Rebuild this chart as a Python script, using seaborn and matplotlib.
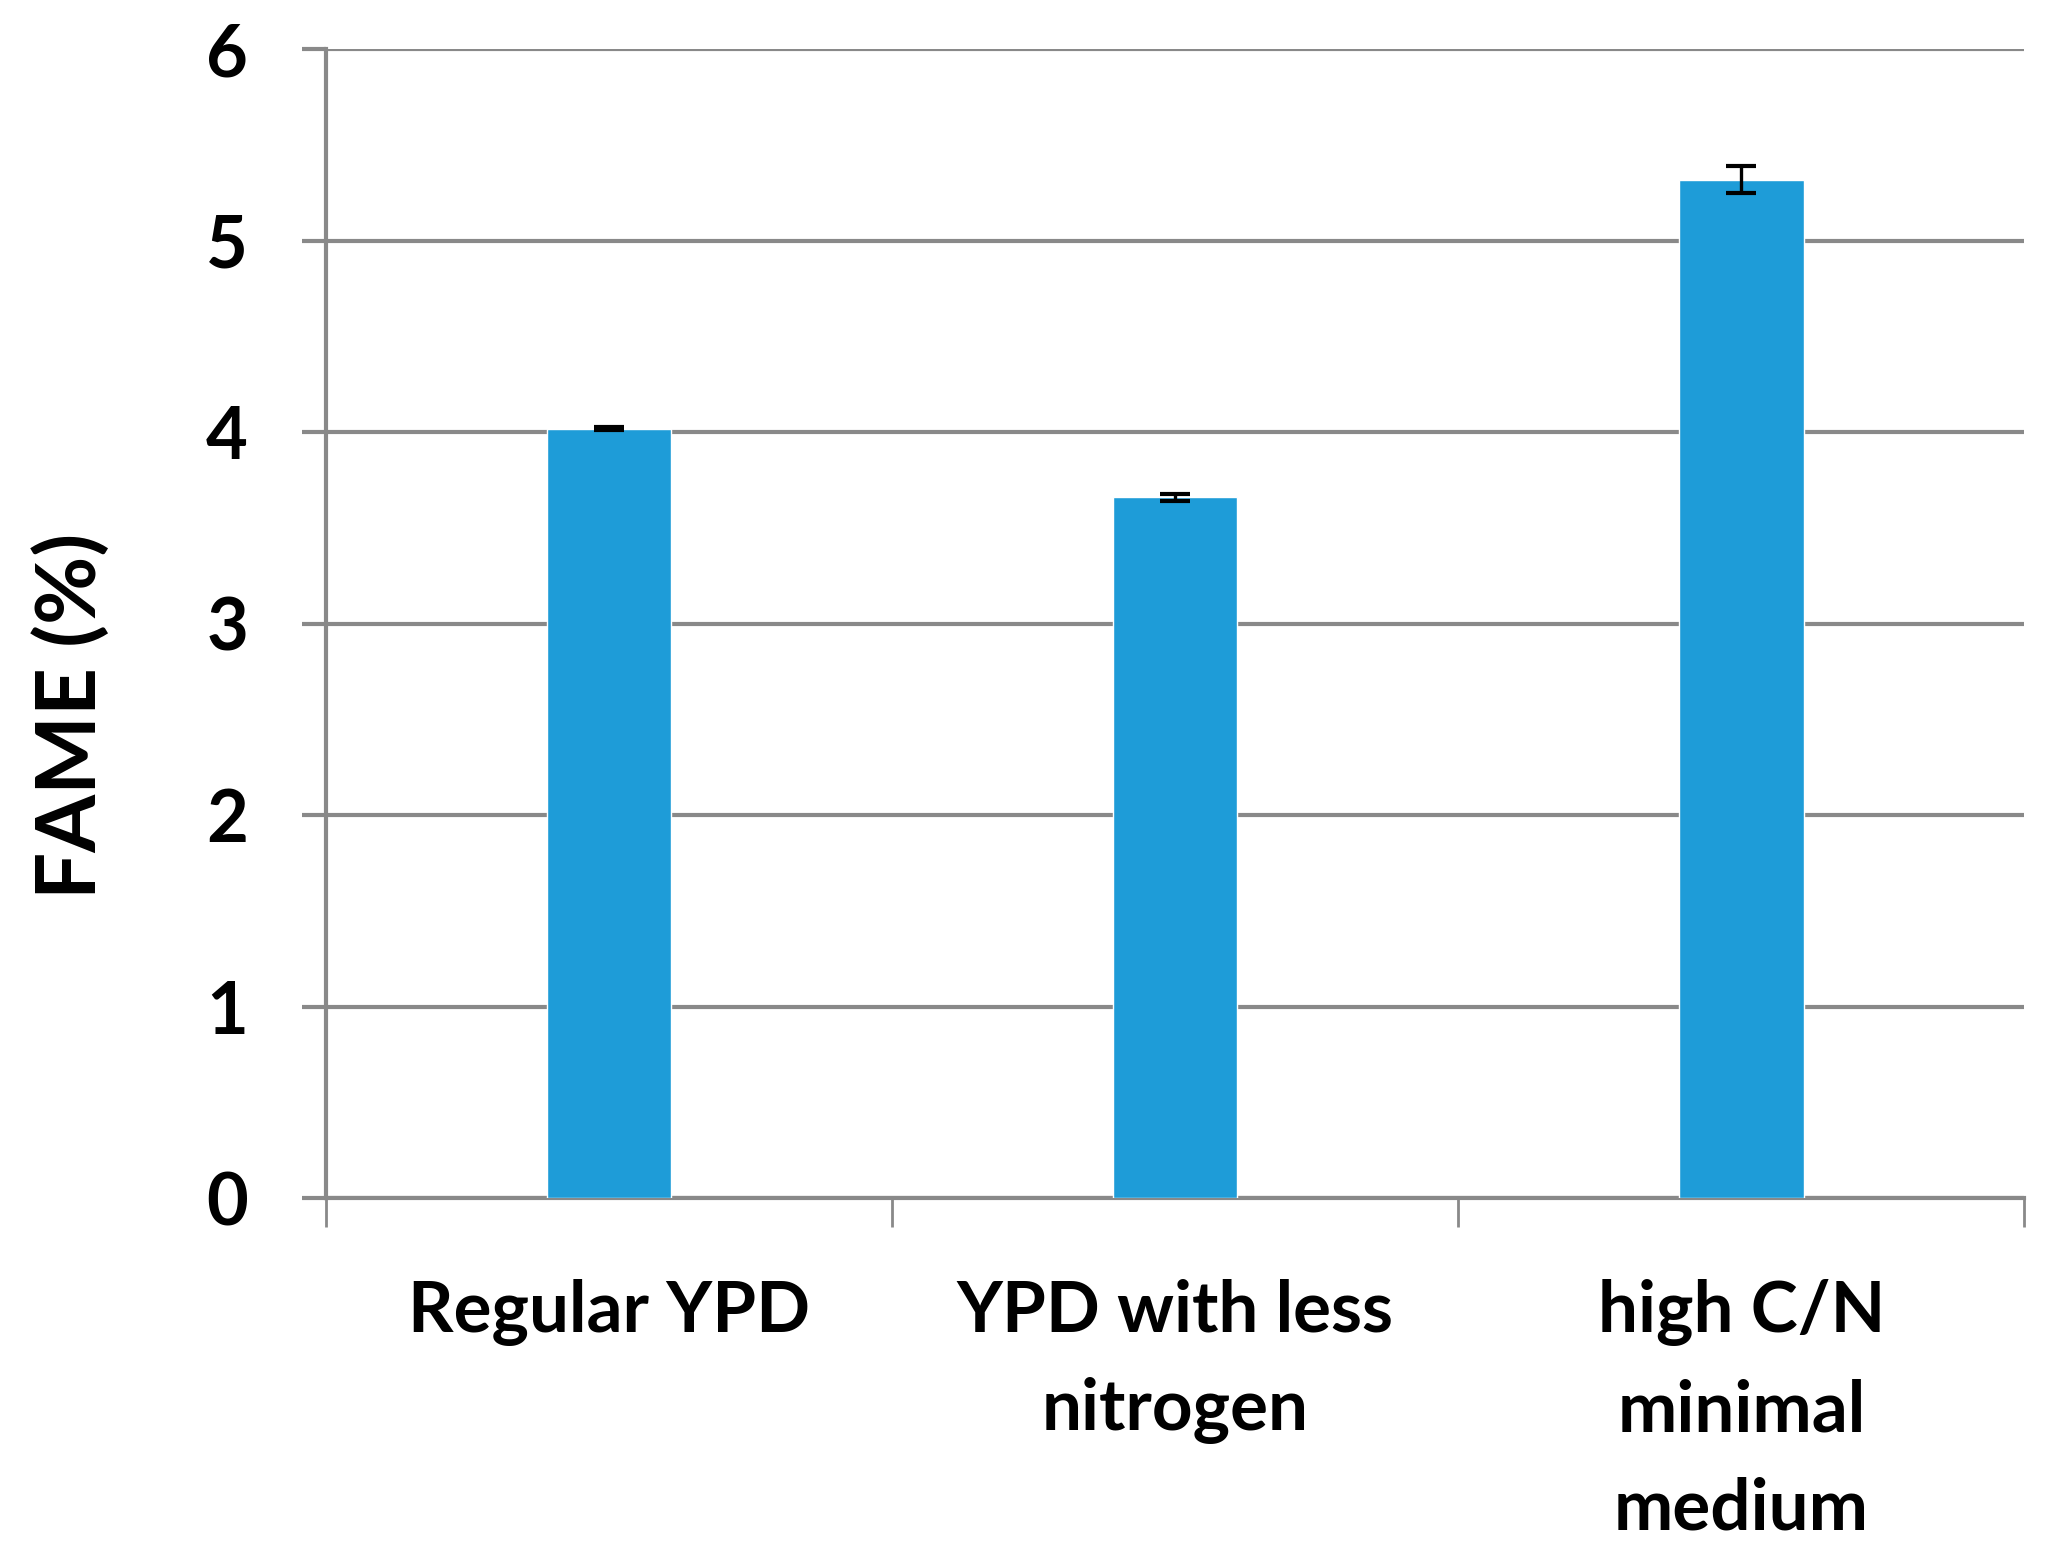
import matplotlib
matplotlib.use("Agg")
import matplotlib.pyplot as plt
import seaborn as sns
import pandas as pd
import numpy as np
from matplotlib.ticker import FixedLocator

categories = ["Regular YPD", "YPD with less\nnitrogen", "high C/N\nminimal\nmedium"]
fame_values = [4.02, 3.66, 5.32]
fame_errors = [0.01, 0.02, 0.07]
y_ticks = [0, 1, 2, 3, 4, 5, 6]

sns.set_theme(style="white")
plt.rcParams['font.family'] = ['Lato', 'DejaVu Sans']
plt.rcParams['text.color'] = 'black'
plt.rcParams['xtick.color'] = 'black'
plt.rcParams['ytick.color'] = 'black'
plt.rcParams['axes.labelcolor'] = 'black'

df = pd.DataFrame({"medium": categories, "fame": fame_values})

fig = plt.figure(figsize=(20.49, 15.46), dpi=100)
ax = fig.add_axes([0.159, 0.225, 0.829, 0.743])

grid_color = "#898989"
sns.barplot(data=df, x="medium", y="fame", color="#1E9CD8", saturation=1,
            width=0.22, errorbar=None, ax=ax, zorder=3)
ax.errorbar(np.arange(len(categories)), fame_values, yerr=fame_errors, fmt="none",
            ecolor="black", elinewidth=2.4, capsize=11, capthick=3.0, zorder=4)

ax.set_ylim(0, 6)
ax.set_xlim(-0.5, len(categories) - 0.5)
ax.set_yticks(y_ticks)
ax.yaxis.grid(True, color=grid_color, linewidth=3.0, zorder=0)
ax.set_axisbelow(True)

for side in ["top", "right"]:
    ax.spines[side].set_visible(False)
for side in ["left", "bottom"]:
    ax.spines[side].set_color(grid_color)
    ax.spines[side].set_linewidth(3.0)

ax.tick_params(axis="y", which="major", length=17, width=3.0, color=grid_color,
               labelcolor="black", pad=39, labelsize=52, left=True)
ax.tick_params(axis="x", which="major", length=0, pad=58, labelsize=51,
               labelcolor="black")
ax.xaxis.set_minor_locator(FixedLocator([-0.5, 0.5, 1.5, 2.5]))
ax.tick_params(axis="x", which="minor", length=21, width=2.0, color=grid_color,
               bottom=True)

for lbl in ax.get_yticklabels() + ax.get_xticklabels():
    lbl.set_fontweight("bold")
for lbl in ax.get_xticklabels():
    lbl.set_linespacing(1.62)
    lbl.set_verticalalignment("top")

ax.set_xlabel("")
ax.set_ylabel("FAME (%)", fontsize=60, fontweight="bold", color="black")
ax.yaxis.set_label_coords(-0.127, 0.42)

fig.savefig("out.png", dpi=100, facecolor="white")
